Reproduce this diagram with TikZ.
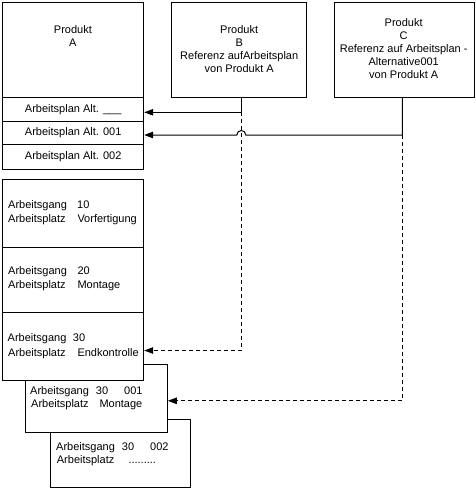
\documentclass[tikz,border=0pt]{standalone}
\usepackage{fontspec}
\setmainfont{Liberation Sans}
\usetikzlibrary{arrows.meta}
\tikzset{
  box/.style={draw, line width=1pt, inner sep=0pt, fill=white, font=\fontsize{11}{13}\selectfont},
  lbl/.style={inner sep=0pt, anchor=base west, font=\fontsize{11}{13}\selectfont},
  ctext/.style={inner sep=0pt, anchor=north, align=center, font=\fontsize{11}{13}\selectfont},
  link/.style={line width=1pt, -{Triangle[length=9pt,width=6.5pt]}},
  dlink/.style={link, dash pattern=on 4pt off 3pt},
}
\begin{document}
\begin{tikzpicture}[x=1pt,y=-1pt]
\useasboundingbox (0,0) rectangle (476,493);
% product A
\node[box, minimum width=141pt, minimum height=95pt] (A) at (73.2,50.2) {};
\node[box, minimum width=141pt, minimum height=24pt] (altU) at (73.2,109.7) {Arbeitsplan Alt. \_\_\_};
\node[box, minimum width=141pt, minimum height=22.6pt] (alt1) at (73.2,133) {Arbeitsplan Alt. 001};
\node[box, minimum width=141pt, minimum height=25pt] (alt2) at (73.2,156.8) {Arbeitsplan Alt. 002};
% products B and C
\node[box, minimum width=135pt, minimum height=94.6pt] (B) at (239.2,50) {};
\node[box, minimum width=139.7pt, minimum height=94.6pt] (C) at (404.2,50) {};
\node[ctext] (tA) at (72.9,25.3) {Produkt\\A};
\node[ctext] (tB) at (239.2,25.3) {Produkt\\B\\Referenz aufArbeitsplan\\von Produkt A};
\node[ctext] (tC) at (403.7,18.7) {Produkt\\C\\Referenz auf Arbeitsplan -\\Alternative001\\von Produkt A};
% operations
\node[box, minimum width=140pt, minimum height=67.7pt] (G302) at (120.3,453.2) {};
\node[box, minimum width=142pt, minimum height=68pt] (G301) at (96.3,398.3) {};
\node[box, minimum width=141pt, minimum height=68pt] (G10) at (73.2,213.3) {};
\node[box, minimum width=141pt, minimum height=65pt] (G20) at (73.2,279.8) {};
\node[box, minimum width=141pt, minimum height=68pt] (G30) at (73.2,346.3) {};
% texts of operations
\node[lbl] (g10a) at (8,208.3) {Arbeitsgang};
\node[lbl] (g10b) at (77,208.3) {10};
\node[lbl] (g10c) at (8,222.3) {Arbeitsplatz};
\node[lbl] (g10d) at (77.3,222.3) {Vorfertigung};
\node[lbl] (g20a) at (8,274) {Arbeitsgang};
\node[lbl] (g20b) at (77.3,274) {20};
\node[lbl] (g20c) at (8,288) {Arbeitsplatz};
\node[lbl] (g20d) at (77.3,288) {Montage};
\node[lbl] (g30a) at (7.5,341.7) {Arbeitsgang};
\node[lbl] (g30b) at (72.7,341.7) {30};
\node[lbl] (g30c) at (8,356) {Arbeitsplatz};
\node[lbl] (g30d) at (77.3,356) {Endkontrolle};
\node[lbl] (g31a) at (30,394.3) {Arbeitsgang};
\node[lbl] (g31b) at (95.7,394.3) {30};
\node[lbl] (g31c) at (124,394.3) {001};
\node[lbl] (g31d) at (31,407.5) {Arbeitsplatz};
\node[lbl] (g31e) at (99.3,407.5) {Montage};
\node[lbl] (g32a) at (56,450.3) {Arbeitsgang};
\node[lbl] (g32b) at (121.7,450.3) {30};
\node[lbl] (g32c) at (150,450.3) {002};
\node[lbl] (g32d) at (56.7,463.3) {Arbeitsplatz};
\node[lbl] (g32e) at (128.3,463.3) {.........};
% connectors
\coordinate (bturn) at (241.3,112.3);
\coordinate (cturn) at (402.3,135);
\coordinate (jump) at (241.3,135);
\coordinate (bend) at (241.3,350.5);
\coordinate (cend) at (402.3,400.8);
\draw[link] (B.south -| bturn) -- (bturn) -- (bturn -| altU.east);
\draw[link] (C.south -| cturn) -- (cturn) -- ([xshift=4.5pt]jump)
  arc[start angle=0, end angle=180, radius=4.5pt] -- (cturn -| alt1.east);
\draw[dlink] (bturn) -- (bend) -- (bend -| G30.east);
\draw[dlink] (cturn) -- (cend) -- (cend -| G301.east);
\end{tikzpicture}
\end{document}
